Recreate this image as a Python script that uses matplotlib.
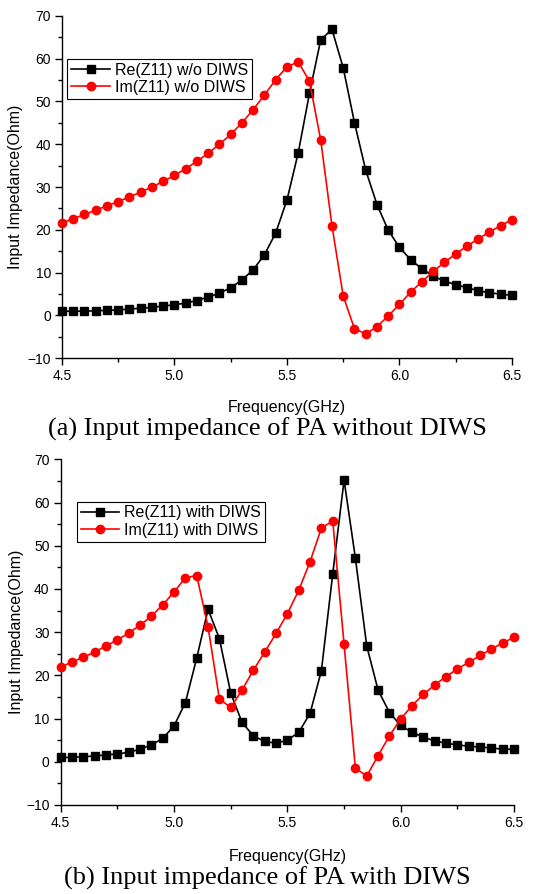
import matplotlib
matplotlib.use("Agg")
import matplotlib.pyplot as plt
from matplotlib.ticker import MultipleLocator

# ---- data (frequency in GHz, impedance in Ohm) ----
freq = [4.5 + 0.05 * i for i in range(41)]

re_wo = [1.0, 1.0, 1.0, 1.1, 1.2, 1.3, 1.5, 1.7, 1.9, 2.2,
         2.5, 2.9, 3.5, 4.3, 5.2, 6.5, 8.3, 10.7, 14.2, 19.3,
         27.0, 38.0, 51.9, 64.4, 66.8, 57.8, 45.0, 33.9, 25.9, 19.9,
         15.9, 13.0, 10.9, 9.2, 8.0, 7.2, 6.5, 5.8, 5.3, 5.0, 4.7]
im_wo = [21.6, 22.6, 23.6, 24.6, 25.6, 26.6, 27.7, 28.8, 30.0, 31.3,
         32.7, 34.3, 36.0, 37.9, 40.0, 42.3, 45.0, 48.1, 51.5, 55.1,
         58.1, 59.2, 54.7, 40.9, 20.9, 4.5, -3.1, -4.3, -2.6, -0.1,
         2.6, 5.5, 7.9, 10.3, 12.4, 14.4, 16.2, 17.9, 19.5, 21.0, 22.4]

re_w = [1.0, 1.0, 1.2, 1.3, 1.6, 1.8, 2.2, 2.9, 3.9, 5.4,
        8.3, 13.7, 24.0, 35.3, 28.5, 15.9, 9.1, 6.0, 4.7, 4.3,
        5.0, 6.8, 11.2, 21.1, 43.5, 65.2, 47.1, 26.8, 16.6, 11.4,
        8.4, 6.8, 5.7, 4.8, 4.3, 3.9, 3.6, 3.4, 3.2, 2.9, 2.9]
im_w = [21.9, 23.1, 24.2, 25.4, 26.8, 28.2, 29.8, 31.6, 33.7, 36.3,
        39.3, 42.6, 43.1, 31.2, 14.5, 12.6, 16.6, 21.2, 25.4, 29.7,
        34.3, 39.7, 46.3, 54.1, 55.7, 27.2, -1.5, -3.3, 1.4, 6.0,
        9.9, 13.0, 15.6, 17.8, 19.7, 21.5, 23.0, 24.6, 26.1, 27.5, 28.8]

labels_wo = ["Re(Z11) w/o DIWS", "Im(Z11) w/o DIWS"]
labels_w = ["Re(Z11) with DIWS", "Im(Z11) with DIWS"]
captions = ["(a) Input impedance of PA without DIWS",
            "(b) Input impedance of PA with DIWS"]
xlabel = "Frequency(GHz)"
ylabel = "Input Impedance(Ohm)"

plt.rcParams['font.family'] = ['Liberation Sans', 'DejaVu Sans']

fig = plt.figure(figsize=(5.34, 8.94), dpi=100)
ax1 = fig.add_axes([0.1161, 0.5992, 0.8427, 0.3832])
ax2 = fig.add_axes([0.1137, 0.0996, 0.8490, 0.3866])


def style(ax, re, im, labels):
    ax.plot(freq, re, color='black', lw=1.2, marker='s', ms=5.5,
            mfc='black', mec='black', label=labels[0], clip_on=False, zorder=3)
    ax.plot(freq, im, color='#ff0000', lw=1.2, marker='o', ms=6,
            mfc='#ff0000', mec='#ff0000', label=labels[1], clip_on=False, zorder=3)
    ax.set_xlim(4.5, 6.5)
    ax.set_ylim(-10, 70)
    ax.xaxis.set_major_locator(MultipleLocator(0.5))
    ax.xaxis.set_minor_locator(MultipleLocator(0.25))
    ax.yaxis.set_major_locator(MultipleLocator(10))
    ax.yaxis.set_minor_locator(MultipleLocator(5))
    ax.xaxis.set_major_formatter(plt.FuncFormatter(lambda v, p: f"{v:.1f}"))
    for s in ['top', 'right']:
        ax.spines[s].set_visible(False)
    for s in ['left', 'bottom']:
        ax.spines[s].set_linewidth(1.0)
    ax.tick_params(which='major', direction='out', length=5, width=1.0,
                   labelsize=10, pad=3)
    ax.tick_params(which='minor', direction='out', length=3, width=1.0)
    ax.set_xlabel(xlabel, fontsize=11.5)
    ax.set_ylabel(ylabel, fontsize=11.5)
    ax.patch.set_alpha(0)


style(ax1, re_wo, im_wo, labels_wo)
style(ax2, re_w, im_w, labels_w)

ax1.xaxis.set_label_coords(0.5, -0.122)
ax1.yaxis.set_label_coords(-0.086, 0.5)
ax2.xaxis.set_label_coords(0.5, -0.127)
ax2.yaxis.set_label_coords(-0.082, 0.5)

for ax, anchor in [(ax1, (0.012, 0.875)), (ax2, (0.035, 0.878))]:
    leg = ax.legend(loc='upper left', bbox_to_anchor=anchor, fontsize=11.5,
                    numpoints=1, handlelength=2.4, handletextpad=0.3,
                    borderpad=0.25, labelspacing=0.15, borderaxespad=0.0,
                    fancybox=False, framealpha=1, edgecolor='black')
    leg.get_frame().set_linewidth(0.8)

fig.text(0.5, 0.520, captions[0], ha='center', va='center',
         family='Liberation Serif', fontsize=19)
fig.text(0.5, 0.018, captions[1], ha='center', va='center',
         family='Liberation Serif', fontsize=19)

fig.savefig('out.png', dpi=100)
